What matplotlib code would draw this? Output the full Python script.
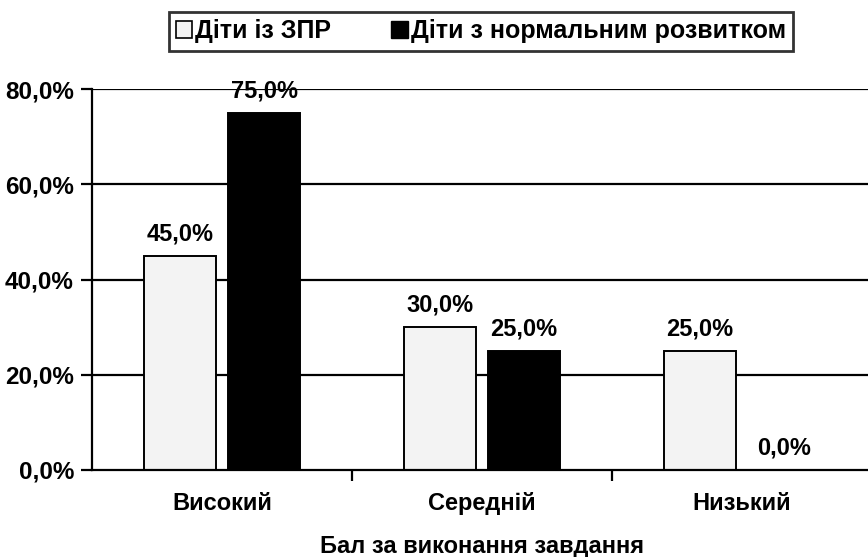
import matplotlib
matplotlib.use("Agg")
import matplotlib.pyplot as plt
import numpy as np
from matplotlib.patches import Patch
from matplotlib.ticker import FuncFormatter

plt.rcParams['font.family'] = ['Liberation Sans', 'DejaVu Sans']
plt.rcParams['font.weight'] = 'bold'

# data
categories = ['Високий', 'Середній', 'Низький']
series_names = ['Діти із ЗПР', 'Діти з нормальним розвитком']
zpr = [45.0, 30.0, 25.0]
normal = [75.0, 25.0, 0.0]
y_ticks = [0, 20, 40, 60, 80]

fig = plt.figure(figsize=(8.68, 5.57), dpi=100)
ax = fig.add_axes([92 / 868, 1 - 470 / 557, 780 / 868, 381 / 557])

x = np.arange(len(categories))
w = 0.275
off = 0.162
light = '#f3f3f3'

# grid behind the bars
for t in y_ticks[1:]:
    ax.axhline(t, color='black', lw=1.6, zorder=0)

b1 = ax.bar(x - off, zpr, w, color=light, edgecolor='black', lw=1.4, zorder=2)
b2 = ax.bar(x + off, normal, w, color='black', edgecolor='black', lw=1.4, zorder=2)

fmt = lambda v: '{:.1f}%'.format(v).replace('.', ',')
for bars, vals in ((b1, zpr), (b2, normal)):
    for r, v in zip(bars, vals):
        ax.text(r.get_x() + r.get_width() / 2, v + 2.2, fmt(v),
                ha='center', va='bottom', fontsize=17, fontweight='bold')

ax.set_xlim(-0.5, 2.5)
ax.set_ylim(0, 80)
ax.set_yticks(y_ticks)
ax.yaxis.set_major_formatter(FuncFormatter(lambda v, p: fmt(v)))
ax.set_xticks(x)
ax.set_xticklabels(categories)
ax.set_xticks([0.5, 1.5], minor=True)
ax.tick_params(axis='x', which='major', length=0, pad=16, labelsize=17)
ax.tick_params(axis='x', which='minor', length=8, width=1.6, direction='out')
ax.tick_params(axis='y', length=8, width=1.6, direction='out', pad=5, labelsize=17.5)
for lab in ax.get_xticklabels() + ax.get_yticklabels():
    lab.set_fontweight('bold')

ax.spines['top'].set_visible(False)
ax.spines['right'].set_visible(False)
ax.spines['left'].set_linewidth(1.6)
ax.spines['bottom'].set_linewidth(1.6)

ax.set_xlabel('Бал за виконання завдання', fontsize=17, fontweight='bold', labelpad=14)

handles = [Patch(facecolor=light, edgecolor='black', lw=1.2),
           Patch(facecolor='black', edgecolor='black')]
leg = fig.legend(handles, series_names, loc='center', bbox_to_anchor=(481 / 868, 1 - 31 / 557),
                 ncol=2, frameon=True, fancybox=False,
                 prop={'weight': 'bold', 'size': 18},
                 handlelength=0.65, handleheight=0.65, handletextpad=0.12,
                 columnspacing=2.4, borderpad=0.3, borderaxespad=0)
leg.get_frame().set_edgecolor('black')
leg.get_frame().set_linewidth(2.0)

fig.savefig('out.png', dpi=100)
